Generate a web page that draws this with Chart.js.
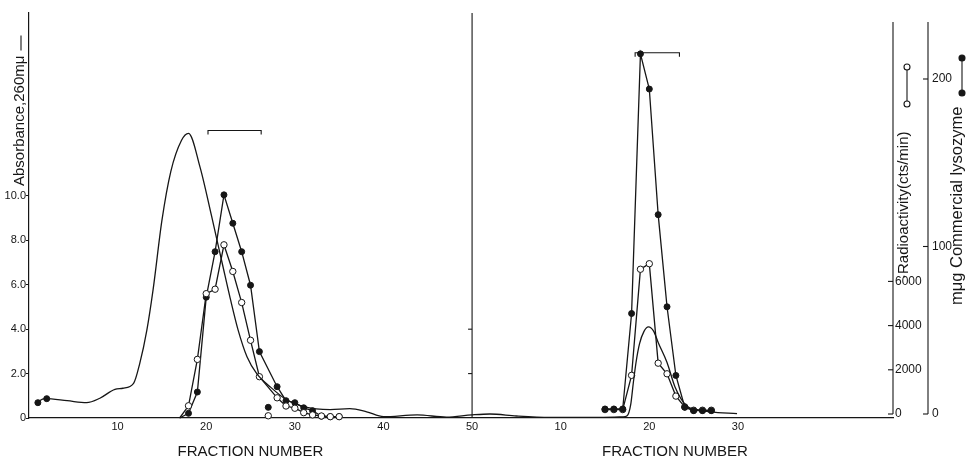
<!DOCTYPE html>
<html>
<head>
<meta charset="utf-8">
<script src="https://cdn.jsdelivr.net/npm/chart.js@4.4.1/dist/chart.umd.min.js"></script>
<style>
  html, body { margin: 0; padding: 0; background: #fff; }
  #wrap { width: 966px; height: 463px; }
</style>
</head>
<body>
<div id="wrap"><canvas id="elution" width="966" height="463"></canvas></div>
<script>
// second column restarts its fraction count, drawn on after fraction 50 of the first
const rightOffset = 50;

// absorbance 260 mμ, one trace running through both columns
const absFrac  = [0.8, 1.8, 4.3, 6.5, 8.0, 9.7, 10.6, 11.8, 12.5, 13.3, 14.0, 15.0, 16.0, 17.2, 18.0, 19.3, 20.6, 21.9, 22.7, 23.6, 24.6, 25.7, 27.2, 29.1, 31.0, 34.0, 36.2, 38.1, 40.0, 43.8, 47.1, 50.0, 52.0, 55.0, 58.8, 64.8, 67.0, 67.5, 67.9, 68.2, 68.5, 68.9, 69.4, 69.9, 70.5, 71.0, 72.0, 72.9, 74.2, 75.6, 76.9, 79.9];
const absValue = [0.69, 0.87, 0.78, 0.69, 0.89, 1.29, 1.34, 1.56, 2.46, 3.96, 5.77, 8.9, 11.1, 12.5, 12.82, 11.3, 9.1, 6.8, 5.4, 3.96, 2.76, 2.0, 1.41, 0.81, 0.51, 0.38, 0.42, 0.28, 0.06, 0.14, 0.04, 0.14, 0.18, 0.09, 0.03, 0.03, 0.05, 0.1, 0.6, 1.6, 2.5, 3.35, 3.9, 4.1, 3.9, 3.4, 2.5, 1.4, 0.55, 0.36, 0.28, 0.2];

// first column, enzyme peak
const leftFrac   = [17, 18, 19, 20, 21, 22, 23, 24, 25, 26, 28, 29, 30, 31, 32, 33, 34, 35];
const leftFilled = [0, 0.21, 1.17, 5.44, 7.49, 10.05, 8.77, 7.49, 5.98, 2.99, 1.41, 0.78, 0.69, 0.46, 0.33, 0.08, 0.06, 0.06];
const leftOpen   = [0, 0.55, 2.64, 5.6, 5.8, 7.8, 6.6, 5.2, 3.5, 1.86, 0.91, 0.54, 0.44, 0.24, 0.14, 0.09, 0.06, 0.06];
// loose points not joined to the curves
const strayFilledFrac = [1, 2, 27];
const strayFilled     = [0.69, 0.87, 0.48];
const strayOpenFrac   = [27];
const strayOpen       = [0.1];

// second column
const rightFrac = [15, 16, 17, 18, 19, 20, 21, 22, 23, 24, 25, 26, 27];
const lysozyme  = [3, 3, 3, 60, 215, 194, 119, 64, 23, 4, 2, 2, 2];
const counts    = [200, 200, 200, 1750, 6550, 6800, 2300, 1820, 810, 320, 170, 170, 170];

// tick labels
const fracTicks = [10, 20, 30, 40, 50, 60, 70, 80];
const absTicks = [0, 2, 4, 6, 8, 10];
const cpmTicks = [0, 2000, 4000, 6000];
const lysTicks = [0, 100, 200];
const dividerTicks = [2, 4];

// pooled fractions (brackets)
const poolFrom = [20.2, 68.4];
const poolTo = [26.2, 73.4];
const poolLevel = [12.95, 16.45];

const ink = '#161616';
const tickFont = { family: '"Liberation Sans", Arial, sans-serif', size: 11 };
const rightTickFont = { family: '"Liberation Sans", Arial, sans-serif', size: 12 };

function pts(xs, ys, shift) {
  return xs.map((x, i) => ({ x: x + (shift || 0), y: ys[i] }));
}

function line(ctx, x1, y1, x2, y2) {
  ctx.beginPath();
  ctx.moveTo(x1, y1);
  ctx.lineTo(x2, y2);
  ctx.stroke();
}

function dot(ctx, x, y, filled) {
  ctx.save();
  ctx.beginPath();
  ctx.arc(x, y, 3, 0, Math.PI * 2);
  ctx.fillStyle = filled ? ink : '#fff';
  ctx.fill();
  ctx.stroke();
  ctx.restore();
}

// text reading bottom to top, starting at (x, y); returns its length
function upText(ctx, text, x, y) {
  ctx.save();
  ctx.translate(x, y);
  ctx.rotate(-Math.PI / 2);
  ctx.textAlign = 'left';
  ctx.textBaseline = 'middle';
  ctx.fillStyle = ink;
  ctx.fillText(text, 0, 0);
  const w = ctx.measureText(text).width;
  ctx.restore();
  return w;
}

const extras = {
  id: 'extras',
  afterDraw(chart) {
    const { ctx, chartArea, scales } = chart;
    const x = scales.x, yA = scales.yA;
    ctx.save();
    ctx.strokeStyle = ink;
    ctx.fillStyle = ink;
    ctx.lineWidth = 1.1;

    // divider between the two columns
    const xm = x.getPixelForValue(rightOffset);
    line(ctx, xm, chartArea.top, xm, chartArea.bottom);
    dividerTicks.forEach(v => {
      const py = yA.getPixelForValue(v);
      line(ctx, xm - 4, py, xm, py);
    });

    // right-hand axes, ticks pointing inward
    [scales.yR, scales.yL].forEach(s => {
      const zero = s.getPixelForValue(0);
      line(ctx, s.left, chartArea.top + 9, s.left, zero);
      s.ticks.forEach(t => {
        const py = s.getPixelForValue(t.value);
        line(ctx, s.left - 5, py, s.left, py);
      });
    });

    // brackets over pooled fractions
    poolFrom.forEach((f, i) => {
      const x1 = x.getPixelForValue(f), x2 = x.getPixelForValue(poolTo[i]);
      const py = yA.getPixelForValue(poolLevel[i]);
      ctx.beginPath();
      ctx.moveTo(x1, py + 4);
      ctx.lineTo(x1, py);
      ctx.lineTo(x2, py);
      ctx.lineTo(x2, py + 4);
      ctx.stroke();
    });

    // x titles
    ctx.font = '15px "Liberation Sans", Arial, sans-serif';
    ctx.textAlign = 'center';
    ctx.textBaseline = 'middle';
    ctx.fillText('FRACTION NUMBER', x.getPixelForValue(25), 452);
    ctx.fillText('FRACTION NUMBER', x.getPixelForValue(rightOffset + 22.9), 452);

    // y titles with their line keys
    ctx.font = '15px "Liberation Sans", Arial, sans-serif';
    let w = upText(ctx, 'Absorbance,260mμ', 20, 186);
    line(ctx, 21, 186 - w - 5, 21, 186 - w - 20);

    w = upText(ctx, '·Radioactivity(cts/min)', 904, 279);
    line(ctx, 907, 104, 907, 67);
    dot(ctx, 907, 104, false);
    dot(ctx, 907, 67, false);

    ctx.font = '16.5px "Liberation Sans", Arial, sans-serif';
    w = upText(ctx, 'mμg Commercial lysozyme', 957, 305);
    line(ctx, 962, 93, 962, 58);
    dot(ctx, 962, 93, true);
    dot(ctx, 962, 58, true);

    ctx.restore();
  }
};

const lineStyle = { borderColor: ink, borderWidth: 1.3, tension: 0, clip: false };
const filledPts = { pointRadius: 3, pointBackgroundColor: ink, pointBorderColor: ink, pointBorderWidth: 1 };
const openPts = { pointRadius: 3.2, pointBackgroundColor: '#fff', pointBorderColor: ink, pointBorderWidth: 1 };

new Chart(document.getElementById('elution'), {
  type: 'line',
  data: {
    datasets: [
      { label: 'Absorbance', data: pts(absFrac, absValue), yAxisID: 'yA', borderColor: ink, borderWidth: 1.3,
        pointRadius: 0, cubicInterpolationMode: 'monotone', clip: false },
      Object.assign({ label: 'Activity (open)', data: pts(leftFrac, leftOpen), yAxisID: 'yA' }, lineStyle, openPts,
        { pointRadius: c => c.dataIndex === 0 ? 0 : 3.2 }),
      Object.assign({ label: 'Activity (filled)', data: pts(leftFrac, leftFilled), yAxisID: 'yA' }, lineStyle, filledPts,
        { pointRadius: c => c.dataIndex === 0 ? 0 : 3 }),
      Object.assign({ label: 'stray filled', data: pts(strayFilledFrac, strayFilled), yAxisID: 'yA', showLine: false }, lineStyle, filledPts),
      Object.assign({ label: 'stray open', data: pts(strayOpenFrac, strayOpen), yAxisID: 'yA', showLine: false }, lineStyle, openPts),
      Object.assign({ label: 'Commercial lysozyme', data: pts(rightFrac, lysozyme, rightOffset), yAxisID: 'yL' }, lineStyle, filledPts),
      Object.assign({ label: 'Radioactivity', data: pts(rightFrac, counts, rightOffset), yAxisID: 'yR' }, lineStyle, openPts)
    ]
  },
  options: {
    responsive: false,
    devicePixelRatio: 1,
    animation: false,
    layout: { padding: { top: 13, left: 0, right: 0, bottom: 0 } },
    plugins: { legend: { display: false }, tooltip: { enabled: false } },
    scales: {
      x: {
        type: 'linear', min: 0, max: 97.5,
        grid: { display: false, drawTicks: false },
        border: { display: true, color: ink, width: 1.2 },
        afterBuildTicks: s => { s.ticks = fracTicks.map(v => ({ value: v })); },
        afterFit: s => { s.height = 45; },
        ticks: { color: ink, font: tickFont, padding: 2, maxRotation: 0,
          callback: v => String(v > rightOffset ? v - rightOffset : v) }
      },
      yA: {
        position: 'left', min: 0, max: 18.24,
        grid: { display: true, drawOnChartArea: false, drawTicks: true, tickLength: 3, color: ink },
        border: { display: true, color: ink, width: 1.2 },
        afterBuildTicks: s => { s.ticks = absTicks.map(v => ({ value: v })); },
        afterFit: s => { s.width = 29; },
        ticks: { color: ink, font: tickFont, padding: 0,
          callback: v => v === 0 ? '0' : v.toFixed(1) }
      },
      yR: {
        position: 'right', min: -181, max: 18145,
        grid: { display: false, drawTicks: false },
        border: { display: false },
        afterBuildTicks: s => { s.ticks = cpmTicks.map(v => ({ value: v })); },
        afterFit: s => { s.width = 35; },
        ticks: { color: ink, font: rightTickFont, padding: 2, callback: v => String(v) }
      },
      yL: {
        position: 'right', min: -2.39, max: 239.4,
        grid: { display: false, drawTicks: false },
        border: { display: false },
        afterBuildTicks: s => { s.ticks = lysTicks.map(v => ({ value: v })); },
        afterFit: s => { s.width = 38; },
        ticks: { color: ink, font: rightTickFont, padding: 4, callback: v => String(v) }
      }
    }
  },
  plugins: [extras]
});
</script>
</body>
</html>
